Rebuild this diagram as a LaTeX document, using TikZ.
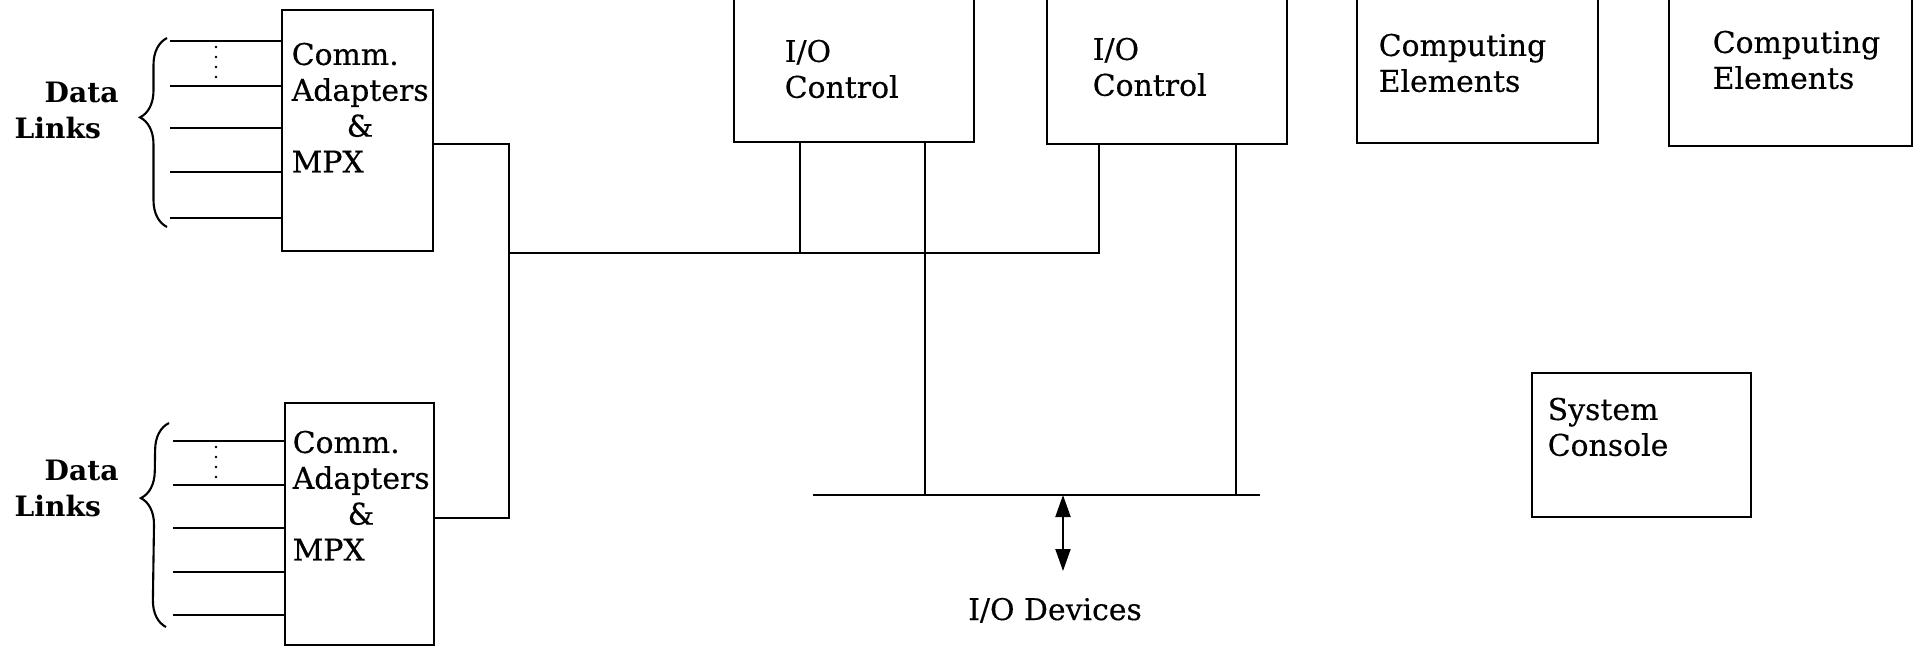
\documentclass[tikz,border=0pt]{standalone}
\usepackage{fontspec}
\setmainfont{DejaVu Serif}
\usetikzlibrary{arrows.meta, positioning, calc, decorations.pathreplacing}

\begin{document}
\begin{tikzpicture}[
            x=0.1mm, y=-0.1mm,
            % --- 样式 ---
            box/.style={rectangle, draw, line width=0.55pt, inner sep=0pt},
            lbl/.style={inner sep=0pt, anchor=north west, align=left,
                        font=\fontsize{8.5}{10.2}\selectfont\addfontfeature{FakeBold=0.4}},
            tag/.style={inner sep=0pt, anchor=north west, align=left,
                        font=\fontsize{8}{10.2}\selectfont\bfseries},
            wire/.style={draw, line width=0.55pt},
            dots/.style={draw, line width=0.8pt, line cap=round, dash pattern=on 0pt off 1mm},
            brace/.style={draw, line width=0.6pt, decorate,
                          decoration={brace, amplitude=2.7mm}},
            both/.style={draw, line width=0.6pt,
                         {Triangle[length=2.2mm, width=1.5mm]}-{Triangle[length=2.2mm, width=1.5mm]}}
        ]
        \useasboundingbox (0,0) rectangle (1923,648);
        \clip (0,0) rectangle (1923,648);

        % --- 方框 ---
        \node[box, minimum width=15.1mm, minimum height=24.1mm] (cam1) at (357.5,130.5) {};
        \node[box, minimum width=14.9mm, minimum height=24.2mm] (cam2) at (359.5,524) {};
        \node[box, minimum width=24.0mm, minimum height=15.2mm] (io1) at (854,66) {};
        \node[box, minimum width=24.0mm, minimum height=15.4mm] (io2) at (1167,67) {};
        \node[box, minimum width=24.1mm, minimum height=15.3mm] (ce1) at (1477.5,66.5) {};
        \node[box, minimum width=24.3mm, minimum height=15.6mm] (ce2) at (1790.5,68) {};
        \node[box, minimum width=21.9mm, minimum height=14.4mm] (cons) at (1641.5,445) {};

        % --- 文字 ---
        \node[lbl] (cam1t) at ([shift={(10,33)}]cam1.north west)
            {Comm.\\Adapters\\\hspace*{5.5mm}\&\\MPX};
        \node[lbl] (cam2t) at ([shift={(8,28)}]cam2.north west)
            {Comm.\\Adapters\\\hspace*{5.5mm}\&\\MPX};
        \node[lbl] (io1t) at ([shift={(51,50)}]io1.north west) {I/O\\Control};
        \node[lbl] (io2t) at ([shift={(46,48)}]io2.north west) {I/O\\Control};
        \node[lbl] (ce1t) at ([shift={(22,44)}]ce1.north west) {Computing\\Elements};
        \node[lbl] (ce2t) at ([shift={(44,41)}]ce2.north west) {Computing\\Elements};
        \node[lbl] (const) at ([shift={(16,25)}]cons.north west) {System\\Console};
        \node[tag] (dl1) at (14,81) {\hspace*{3mm}Data\\Links};
        \node[tag] (dl2) at (14,459) {\hspace*{3mm}Data\\Links};
        \node[font=\fontsize{8.5}{10}\selectfont\addfontfeature{FakeBold=0.4}, inner sep=0pt, anchor=base] (devs) at (1055,620) {I/O Devices};

        % --- 数据链路 ---
        \foreach \y in {41,86,128,172,218}
            \draw[wire] (170,\y) -- (cam1.west |- 0,\y);
        \foreach \y in {441,485,528,572,615}
            \draw[wire] (173,\y) -- (cam2.west |- 0,\y);
        \draw[dots] (216,47) -- (216,78);
        \draw[dots] (216,447) -- (216,478);
        \draw[brace, decoration={aspect=0.58}] (167,227) -- (167,38);
        \draw[brace, decoration={aspect=0.63}] (166,627) -- (169,423);

        % --- 总线与连线 ---
        \coordinate (bus) at (509,253);
        \coordinate (devl) at (813,495);
        \coordinate (devr) at (1260,495);
        \coordinate (devtop) at (1063,495);
        \coordinate (devbot) at (1063,571);

        \draw[wire] (cam1.east |- 0,144) -| (bus) |- (cam2.east |- 0,518);
        \draw[wire] (bus) -| (io2.south -| 1099,0);
        \draw[wire] (io1.south -| 800,0) -- (800,253);
        \draw[wire] (io1.south -| 925,0) -- (925,495);
        \draw[wire] (io2.south -| 1236,0) -- (1236,495);
        \draw[wire] (devl) -- (devr);
        \path[both] (devtop) -- (devbot);

\end{tikzpicture}
\end{document}
